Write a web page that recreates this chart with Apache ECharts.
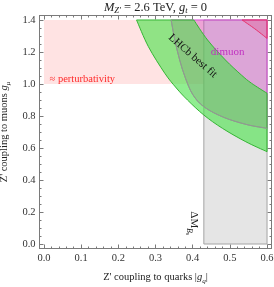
<!DOCTYPE html>
<html><head><meta charset="utf-8">
<script src="https://cdn.jsdelivr.net/npm/echarts@6/dist/echarts.min.js"></script>
<style>html,body{margin:0;padding:0;background:#fff}#c{width:274px;height:287px}</style>
</head><body><div id="c"></div>
<script>
// ---- data ----
const xTicks = [0, 0.1, 0.2, 0.3, 0.4, 0.5, 0.6];
const xTickLabels = ['0.0', '0.1', '0.2', '0.3', '0.4', '0.5', '0.6'];
const yTicks = [0, 0.2, 0.4, 0.6, 0.8, 1.0, 1.2, 1.4];
const yTickLabels = ['0.0', '0.2', '0.4', '0.6', '0.8', '1.0', '1.2', '1.4'];
const xMinorTicks = [0.02,0.04,0.06,0.08,0.12,0.14,0.16,0.18,0.22,0.24,0.26,0.28,0.32,0.34,0.36,0.38,0.42,0.44,0.46,0.48,0.52,0.54,0.56,0.58];
const yMinorTicks = [0.05,0.1,0.15,0.25,0.3,0.35,0.45,0.5,0.55,0.65,0.7,0.75,0.85,0.9,0.95,1.05,1.1,1.15,1.25,1.3,1.35];

const perturbativity = [[0, 1.0], [0.6, 1.0], [0.6, 1.4], [0, 1.4]];
const deltaMBs = [[0.43, 0], [0.6, 0], [0.6, 1.4], [0.43, 1.4]];
const dimuonEdge = [[0.342, 1.4], [0.352, 1.275], [0.365, 1.15], [0.380, 1.04], [0.400, 0.935], [0.430, 0.858], [0.483, 0.792], [0.546, 0.746], [0.600, 0.723]];
const dimuonCorner = [[0.6, 1.4]];
const lhcbLower = [[0.249, 1.4], [0.281, 1.233], [0.325, 1.067], [0.356, 0.975], [0.386, 0.90], [0.430, 0.806], [0.480, 0.723], [0.543, 0.639], [0.600, 0.577]];
const lhcbUpper = [[0.403, 1.4], [0.440, 1.275], [0.488, 1.15], [0.531, 1.056], [0.558, 1.005], [0.600, 0.942]];
const redEdge = [[0.533, 1.4], [0.567, 1.345], [0.600, 1.285]];
const redCorner = [[0.6, 1.4]];

const annotations = [
  { key: 'lhcb', text: 'LHCb best fit', at: [0.40, 1.175] },
  { key: 'dimuon', text: 'dimuon', at: [0.494, 1.20] },
  { key: 'pert', text: '≈ perturbativity', at: [0.015, 1.03] },
  { key: 'dm', text: '{n|ΔM}{s|B}{t|s}', at: [0.398, 0.13] }
];

// ---- chart ----
const SERIF = 'Liberation Serif, Times New Roman, serif';
const chart = echarts.init(document.getElementById('c'), null, { renderer: 'canvas' });

// smooth drawing (Catmull-Rom -> cubic Bezier) through pixel points
function smoothSeg(P, start) {
  let d = start ? 'M' + P[0][0] + ' ' + P[0][1] : 'L' + P[0][0] + ' ' + P[0][1];
  for (let i = 0; i < P.length - 1; i++) {
    const p0 = P[Math.max(i - 1, 0)], p1 = P[i], p2 = P[i + 1], p3 = P[Math.min(i + 2, P.length - 1)];
    const c1 = [p1[0] + (p2[0] - p0[0]) / 6, p1[1] + (p2[1] - p0[1]) / 6];
    const c2 = [p2[0] - (p3[0] - p1[0]) / 6, p2[1] - (p3[1] - p1[1]) / 6];
    d += ' C' + c1[0] + ' ' + c1[1] + ' ' + c2[0] + ' ' + c2[1] + ' ' + p2[0] + ' ' + p2[1];
  }
  return d;
}
function lineSeg(P, start) {
  return P.map((p, i) => ((i === 0 && start) ? 'M' : 'L') + p[0] + ' ' + p[1]).join(' ');
}

// parts: list of {pts, smooth}
function region(parts, fill, stroke, lw, z, closed) {
  const all = [];
  parts.forEach(pt => pt.pts.forEach(p => all.push(p)));
  return {
    type: 'custom', coordinateSystem: 'cartesian2d', xAxisIndex: 0, yAxisIndex: 0,
    z: z, silent: true, animation: false, data: all, encode: { x: 0, y: 1 },
    renderItem: function (params, api) {
      if (params.dataIndex !== 0) return null;
      let d = '';
      parts.forEach((pt, k) => {
        const P = pt.pts.map(p => api.coord(p));
        d += (k ? ' ' : '') + (pt.smooth ? smoothSeg(P, k === 0) : lineSeg(P, k === 0));
      });
      if (closed) d += ' Z';
      return { type: 'path', shape: { pathData: d },
        style: { fill: closed ? fill : null, stroke: stroke, lineWidth: lw } };
    }
  };
}

const labelStyles = {
  lhcb: { rot: -41, style: { fill: '#111', fontSize: 11, fontFamily: SERIF, align: 'center', verticalAlign: 'middle' } },
  dimuon: { rot: 0, style: { fill: '#c030c0', fontSize: 11, fontFamily: SERIF, align: 'center', verticalAlign: 'middle' } },
  pert: { rot: 0, style: { fill: '#ff2a2a', fontSize: 10.5, fontFamily: SERIF, align: 'left', verticalAlign: 'middle' } },
  dm: { rot: -90, style: { fill: '#222', fontSize: 11, fontFamily: SERIF, align: 'center', verticalAlign: 'middle',
        rich: { n: { fontSize: 11, fontFamily: SERIF, fill: '#222', verticalAlign: 'top', lineHeight: 14 },
                s: { fontSize: 7.5, fontFamily: SERIF, fill: '#222', verticalAlign: 'bottom', fontStyle: 'italic', lineHeight: 14 },
                t: { fontSize: 6, fontFamily: SERIF, fill: '#222', verticalAlign: 'bottom', lineHeight: 12 } } } }
};

const labelsSeries = {
  type: 'custom', coordinateSystem: 'cartesian2d', xAxisIndex: 0, yAxisIndex: 0,
  z: 20, silent: true, animation: false,
  data: annotations.map(a => [a.at[0], a.at[1]]), encode: { x: 0, y: 1 },
  renderItem: function (params, api) {
    const a = annotations[params.dataIndex];
    const p = api.coord(a.at);
    const ls = labelStyles[a.key];
    return { type: 'text', x: p[0], y: p[1], rotation: ls.rot * Math.PI / 180,
      style: Object.assign({ text: a.text }, ls.style) };
  }
};

const FRAME = '#7a7a7a';
const xBase = { type: 'value', min: -0.012, max: 0.612, splitLine: { show: false }, gridIndex: 0 };
const yBase = { type: 'value', min: -0.028, max: 1.428, splitLine: { show: false }, gridIndex: 0 };
function majorAxis(base, pos, ticks, labels, showLabel) {
  return Object.assign({}, base, {
    position: pos,
    axisLine: { show: true, onZero: false, lineStyle: { color: FRAME, width: 1 } },
    axisTick: { show: true, inside: true, length: 4, customValues: ticks, lineStyle: { color: FRAME, width: 1 } },
    axisLabel: { show: showLabel, customValues: ticks, formatter: v => labels[ticks.indexOf(v)] !== undefined ? labels[ticks.indexOf(v)] : '',
      color: '#333', fontFamily: SERIF, fontSize: 10.5, margin: 4 }
  });
}
function minorAxis(base, pos, ticks) {
  return Object.assign({}, base, {
    position: pos,
    axisLine: { show: false, onZero: false },
    axisTick: { show: true, inside: true, length: 2, customValues: ticks, lineStyle: { color: FRAME, width: 1 } },
    axisLabel: { show: false }
  });
}
function nameRich(fs) {
  return {
    n: { fontFamily: SERIF, fontSize: fs, color: '#222', lineHeight: 15, verticalAlign: 'middle' },
    i: { fontFamily: SERIF, fontSize: fs, color: '#222', fontStyle: 'italic', lineHeight: 15, verticalAlign: 'middle' },
    s: { fontFamily: SERIF, fontSize: fs * 0.68, color: '#222', fontStyle: 'italic', lineHeight: 15, verticalAlign: 'bottom' }
  };
}

const xAx = [
  Object.assign(majorAxis(xBase, 'bottom', xTicks, xTickLabels, true), {
    name: "{n|Z' coupling to quarks |}{i|g}{s|q}{n||}", nameLocation: 'middle', nameGap: 21,
    nameTextStyle: { color: '#222', fontFamily: SERIF, fontSize: 10.5, rich: nameRich(10.5) }
  }),
  minorAxis(xBase, 'bottom', xMinorTicks),
  majorAxis(xBase, 'top', xTicks, xTickLabels, false),
  minorAxis(xBase, 'top', xMinorTicks)
];
const yAx = [
  Object.assign(majorAxis(yBase, 'left', yTicks, yTickLabels, true), {
    name: "{n|Z' coupling to muons }{i|g}{s|μ}", nameLocation: 'middle', nameGap: 26, nameRotate: 90,
    nameTextStyle: { color: '#222', fontFamily: SERIF, fontSize: 10.5, rich: nameRich(10.5) }
  }),
  minorAxis(yBase, 'left', yMinorTicks),
  majorAxis(yBase, 'right', yTicks, yTickLabels, false),
  minorAxis(yBase, 'right', yMinorTicks)
];

chart.setOption({
  animation: false,
  backgroundColor: '#fff',
  title: {
    text: "{i|M}{s|Z′}{n| = 2.6 TeV, }{i|g}{s|t}{n| = 0}",
    left: 155.5, textAlign: 'center', top: 0, padding: 0,
    textStyle: { fontFamily: SERIF, fontSize: 12.5, fontWeight: 'normal', color: '#222',
      rich: { n: { fontFamily: SERIF, fontSize: 12.5, color: '#222', lineHeight: 15, verticalAlign: 'middle' },
              i: { fontFamily: SERIF, fontSize: 12.5, color: '#222', fontStyle: 'italic', lineHeight: 15, verticalAlign: 'middle' },
              s: { fontFamily: SERIF, fontSize: 8.5, color: '#222', fontStyle: 'italic', lineHeight: 15, verticalAlign: 'bottom' } } }
  },
  grid: { left: 39.5, right: 2.5, top: 15.5, bottom: 38.5, outerBoundsMode: 'none', containLabel: false },
  xAxis: xAx,
  yAxis: yAx,
  series: [
    region([{ pts: perturbativity }], '#ffe3e3', null, 0, 1, true),
    region([{ pts: deltaMBs }], '#e5e5e5', '#a4a4a4', 1, 2, true),
    region([{ pts: dimuonEdge, smooth: true }, { pts: dimuonCorner }], 'rgba(203,46,189,0.35)', '#d550d5', 1, 3, true),
    region([{ pts: redEdge, smooth: true }, { pts: redCorner }], 'rgba(230,40,100,0.22)', '#e8306a', 1, 4, true),
    region([{ pts: lhcbLower, smooth: true }, { pts: lhcbUpper.slice().reverse(), smooth: true }], 'rgba(70,227,70,0.6)', '#35b535', 1, 5, true),
    region([{ pts: dimuonEdge, smooth: true }], null, '#959595', 1, 6, false),
    labelsSeries
  ]
});
</script>
</body></html>
